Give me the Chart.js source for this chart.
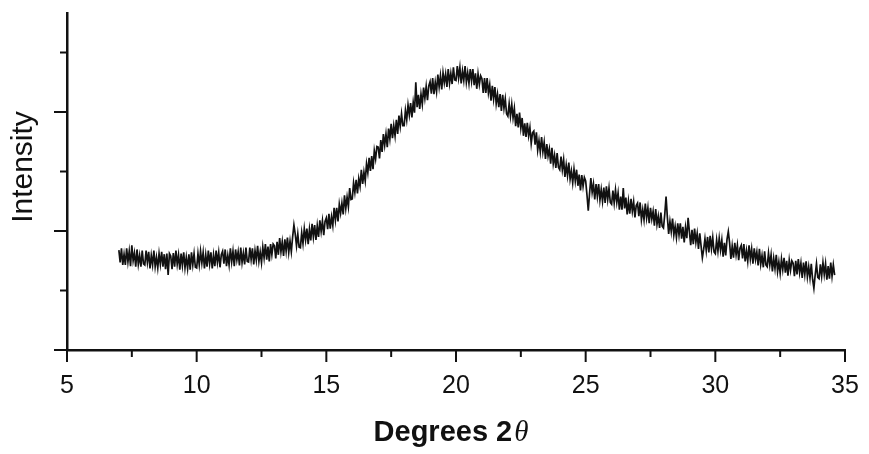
<!DOCTYPE html>
<html>
<head>
<meta charset="utf-8">
<script src="https://cdn.jsdelivr.net/npm/chart.js@4/dist/chart.umd.min.js"></script>
<style>
html,body{margin:0;padding:0;background:#fff;}
#wrap{width:869px;height:454px;}
</style>
</head>
<body>
<div id="wrap"><canvas id="c" width="869" height="454"></canvas></div>
<script>
// Scan grid (degrees 2-theta)
const thetaStart = 7.0;
const thetaStep = 0.05;
// Intensity (arbitrary units, one value per 0.05 deg from 7.00 to 34.60)
const intensity = [
  1.68,1.47,1.71,1.43,1.61,1.43,1.71,1.48,1.66,1.41, 1.76,1.50,1.63,1.40,1.69,1.44,1.59,1.40,1.67,1.45,
  1.43,1.67,1.47,1.65,1.37,1.59,1.43,1.67,1.40,1.56, 1.38,1.62,1.44,1.65,1.40,1.61,1.36,1.62,1.26,1.62,
  1.58,1.36,1.63,1.40,1.67,1.44,1.60,1.35,1.62,1.42, 1.64,1.38,1.56,1.37,1.61,1.35,1.64,1.43,1.62,1.39,
  1.38,1.62,1.43,1.66,1.46,1.64,1.37,1.60,1.40,1.67, 1.45,1.64,1.37,1.60,1.41,1.67,1.47,1.64,1.39,1.60,
  1.66,1.45,1.69,1.41,1.59,1.43,1.71,1.48,1.66,1.41, 1.69,1.51,1.65,1.42,1.72,1.47,1.63,1.44,1.72,1.49,
  1.48,1.72,1.52,1.71,1.44,1.67,1.51,1.75,1.49,1.65, 1.47,1.73,1.55,1.78,1.52,1.74,1.49,1.78,1.60,1.78,
  1.75,1.54,1.82,1.60,1.88,1.65,1.82,1.58,1.86,1.66, 1.89,1.64,1.83,1.65,1.90,2.10,1.95,1.75,1.95,1.73,
  1.72,1.97,1.79,2.04,1.85,2.04,1.78,2.03,1.84,2.12, 1.90,2.10,1.85,2.09,1.90,2.18,1.99,2.17,1.93,2.16,
  2.22,2.03,2.29,2.04,2.24,2.09,2.39,2.18,2.39,2.16, 2.45,2.30,2.47,2.28,2.60,2.38,2.57,2.41,2.72,2.53,
  2.54,2.81,2.65,2.86,2.63,2.88,2.75,3.03,2.79,2.99, 2.84,3.13,2.98,3.23,3.01,3.26,3.04,3.35,3.21,3.42,
  3.41,3.22,3.53,3.33,3.63,3.44,3.63,3.41,3.72,3.55, 3.80,3.56,3.77,3.60,3.87,3.63,3.94,3.76,3.97,3.77,
  3.77,4.03,3.87,4.12,3.95,4.15,3.91,4.16,3.99,4.50, 4.08,4.29,4.05,4.30,4.13,4.41,4.23,4.43,4.20,4.44,
  4.51,4.31,4.57,4.30,4.50,4.34,4.63,4.42,4.61,4.38, 4.66,4.49,4.64,4.42,4.72,4.48,4.65,4.47,4.75,4.54,
  4.53,4.77,4.57,4.75,4.48,4.69,4.53,4.77,4.50,4.66, 4.48,4.72,4.52,4.72,4.45,4.65,4.39,4.64,4.46,4.61,
  4.56,4.32,4.57,4.32,4.57,4.32,4.46,4.19,4.44,4.22, 4.42,4.14,4.30,4.08,4.30,4.02,4.29,4.06,4.22,3.97,
  3.93,4.14,3.93,4.13,3.90,4.06,3.76,3.97,3.74,3.99, 3.73,3.90,3.60,3.81,3.58,3.82,3.60,3.74,3.47,3.65,
  3.68,3.45,3.66,3.36,3.52,3.33,3.58,3.33,3.49,3.21, 3.46,3.26,3.38,3.13,3.40,3.13,3.27,3.06,3.31,3.07,
  3.03,3.25,3.03,3.20,2.91,3.11,2.93,3.15,2.87,3.01, 2.81,3.04,2.84,3.03,2.76,2.95,2.68,2.94,2.75,2.90,
  2.84,2.61,2.34,2.63,2.89,2.65,2.79,2.53,2.79,2.58, 2.79,2.52,2.70,2.50,2.73,2.47,2.75,2.53,2.72,2.48,
  2.45,2.68,2.47,2.69,2.48,2.64,2.36,2.58,2.36,2.72, 2.38,2.56,2.28,2.50,2.29,2.54,2.33,2.49,2.23,2.43,
  2.47,2.25,2.48,2.19,2.36,2.19,2.46,2.22,2.39,2.13, 2.39,2.20,2.33,2.09,2.37,2.11,2.25,2.05,2.31,2.08,
  2.05,2.28,2.58,2.23,1.95,2.16,1.99,2.21,1.93,2.08, 1.89,2.13,1.93,2.13,1.87,2.07,1.81,2.06,1.88,2.22,
  1.99,1.76,2.02,1.78,2.04,1.81,1.96,1.70,1.96,1.75, 1.55,1.69,1.87,1.67,1.90,1.64,1.92,1.70,1.89,1.65,
  1.62,1.85,1.66,1.88,1.68,1.85,1.57,1.80,1.59,1.86, 1.99,1.80,1.53,1.75,1.55,1.80,1.60,1.76,1.51,1.71,
  1.76,1.54,1.78,1.49,1.67,1.49,1.76,1.53,1.70,1.45, 1.71,1.52,1.65,1.42,1.70,1.44,1.59,1.39,1.66,1.43,
  1.40,1.63,1.43,1.60,1.32,1.54,1.37,1.60,1.32,1.48, 1.29,1.53,1.35,1.55,1.30,1.50,1.25,1.51,1.34,1.50,
  1.46,1.24,1.50,1.27,1.53,1.30,1.46,1.21,1.47,1.27, 1.49,1.23,1.40,1.21,1.45,1.19,1.04,1.26,1.45,1.22,
  1.20,1.44,1.24,1.47,1.27,1.45,1.18,1.41,1.20,1.47, 1.24,1.43,1.26
];
const xMajorTicks = [5, 10, 15, 20, 25, 30, 35];
const xMinorTicks = [7.5, 12.5, 17.5, 22.5, 27.5, 32.5];
const yMajorTicks = [0, 2, 4];
const yMinorTicks = [1, 3, 5];
const xTitle = 'Degrees 2';
const xTitleSymbol = 'θ';
const yTitle = 'Intensity';

const points = intensity.map((v, i) => ({ x: +(thetaStart + i * thetaStep).toFixed(2), y: v }));

const INK = '#111111';

const tickPlugin = {
  id: 'ticksAndTitles',
  afterDraw(chart) {
    const ctx = chart.ctx;
    const xs = chart.scales.x, ys = chart.scales.y;
    ctx.save();
    ctx.strokeStyle = INK;
    ctx.lineWidth = 2;
    ctx.lineCap = 'butt';
    const axX = ys.right, axY = xs.top;
    yMajorTicks.forEach(v => { const p = ys.getPixelForValue(v); ctx.beginPath(); ctx.moveTo(axX - 13, p); ctx.lineTo(axX, p); ctx.stroke(); });
    yMinorTicks.forEach(v => { const p = ys.getPixelForValue(v); ctx.beginPath(); ctx.moveTo(axX - 7, p); ctx.lineTo(axX, p); ctx.stroke(); });
    xMajorTicks.forEach(v => { const p = xs.getPixelForValue(v); ctx.beginPath(); ctx.moveTo(p, axY); ctx.lineTo(p, axY + 12); ctx.stroke(); });
    xMinorTicks.forEach(v => { const p = xs.getPixelForValue(v); ctx.beginPath(); ctx.moveTo(p, axY); ctx.lineTo(p, axY + 7); ctx.stroke(); });

    // Y title
    ctx.fillStyle = INK;
    ctx.save();
    ctx.translate(24, 167);
    ctx.rotate(-Math.PI / 2);
    ctx.font = '30px "Liberation Sans", Arial, sans-serif';
    ctx.textAlign = 'center';
    ctx.textBaseline = 'middle';
    ctx.fillText(yTitle, 0, 0);
    ctx.restore();

    // X title
    const f1 = 'bold 29px "Liberation Sans", Arial, sans-serif';
    const f2 = 'italic 29px "Liberation Serif", "Times New Roman", serif';
    ctx.font = f1; const w1 = ctx.measureText(xTitle).width;
    ctx.font = f2; const w2 = ctx.measureText(xTitleSymbol).width;
    const cx = 451, cy = 433;
    const start = cx - (w1 + w2 + 2) / 2;
    ctx.textBaseline = 'middle';
    ctx.textAlign = 'left';
    ctx.font = f1; ctx.fillText(xTitle, start, cy);
    ctx.font = f2; ctx.fillText(xTitleSymbol, start + w1 + 2, cy);
    ctx.restore();
  }
};

new Chart(document.getElementById('c'), {
  type: 'line',
  data: {
    datasets: [{
      data: points,
      borderColor: INK,
      borderWidth: 1.7,
      pointRadius: 0,
      tension: 0,
      fill: false
    }]
  },
  options: {
    responsive: false,
    animation: false,
    events: [],
    layout: { padding: { left: 0, right: 24, top: 13, bottom: 0 } },
    plugins: { legend: { display: false }, tooltip: { enabled: false } },
    scales: {
      x: {
        type: 'linear',
        min: 5, max: 35,
        afterFit(s) { s.height = 104; s.paddingLeft = 0; s.paddingRight = 0; },
        grid: { display: true, drawOnChartArea: false, drawTicks: false },
        border: { display: true, color: INK, width: 2.5 },
        ticks: {
          stepSize: 5,
          padding: 21,
          color: INK,
          font: { family: '"Liberation Sans", Arial, sans-serif', size: 25 },
          maxRotation: 0,
          autoSkip: false
        }
      },
      y: {
        type: 'linear',
        min: 0, max: 5.664,
        afterFit(s) { s.width = 67; s.paddingTop = 0; s.paddingBottom = 0; },
        grid: { display: true, drawOnChartArea: false, drawTicks: false },
        border: { display: true, color: INK, width: 2.5 },
        ticks: { display: false }
      }
    }
  },
  plugins: [tickPlugin]
});
</script>
</body>
</html>
